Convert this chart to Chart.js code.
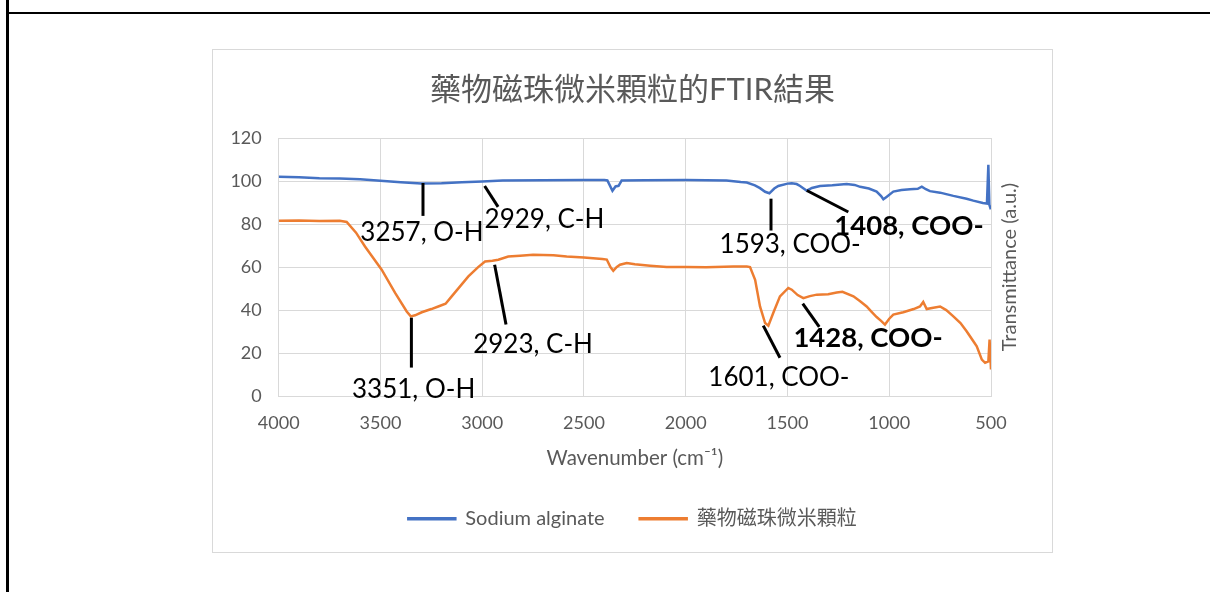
<!DOCTYPE html>
<html>
<head>
<meta charset="utf-8">
<script src="https://cdn.jsdelivr.net/npm/chart.js@4.4.0/dist/chart.umd.min.js"></script>
<style>
  body { margin: 0; background: #fff; width: 1210px; height: 592px; position: relative; overflow: hidden; }
  .vline { position: absolute; left: 6px; top: 0; width: 3px; height: 592px; background: #000; }
  .hline { position: absolute; left: 6px; top: 12px; width: 1204px; height: 2px; background: #000; }
  .frame { position: absolute; left: 212px; top: 49px; width: 841px; height: 504px; border: 1px solid #d9d9d9; box-sizing: border-box; }
  .frame div { position: relative; width: 839px; height: 502px; }
</style>
</head>
<body>
<div class="vline"></div>
<div class="hline"></div>
<div class="frame"><div><canvas id="ftirChart"></canvas></div></div>
<script>
// Sodium alginate spectrum (wavenumber cm-1, transmittance)
const sodiumWn = [4000, 3900, 3800, 3700, 3600, 3500, 3400, 3300, 3200, 3100, 3000, 2900, 2700, 2500, 2400, 2385, 2360, 2345, 2330, 2315, 2200, 2000, 1800, 1730, 1700, 1660, 1635, 1610, 1589, 1565, 1545, 1500, 1479, 1455, 1438, 1405, 1380, 1340, 1280, 1209, 1170, 1143, 1100, 1062, 1040, 1029, 1015, 980, 940, 898, 860, 840, 820, 800, 750, 685, 620, 587, 540, 520, 513, 508, 501];
const sodiumT = [102.0, 101.8, 101.3, 101.2, 100.8, 100.1, 99.4, 98.9, 99.0, 99.4, 99.8, 100.2, 100.4, 100.5, 100.5, 100.3, 95.5, 97.5, 97.8, 100.2, 100.4, 100.5, 100.3, 99.5, 99.3, 98.0, 96.7, 95.0, 94.3, 96.5, 97.7, 98.8, 99.0, 98.6, 97.7, 95.5, 96.8, 97.7, 98.0, 98.6, 98.2, 97.3, 96.5, 95.1, 93.0, 91.5, 92.5, 95.1, 95.8, 96.2, 96.4, 97.4, 96.2, 95.3, 94.6, 93.1, 91.8, 90.9, 89.8, 89.5, 107.5, 89.0, 86.8];

// drug magnetic bead microparticles
const beadWn = [4000, 3900, 3800, 3700, 3666, 3620, 3576, 3494, 3428, 3371, 3351, 3330, 3297, 3250, 3216, 3180, 3150, 3068, 3020, 2986, 2950, 2921, 2872, 2814, 2750, 2650, 2585, 2500, 2410, 2388, 2370, 2356, 2340, 2323, 2290, 2250, 2175, 2094, 2000, 1900, 1766, 1700, 1684, 1659, 1635, 1610, 1594, 1570, 1537, 1496, 1479, 1450, 1422, 1390, 1356, 1300, 1258, 1230, 1176, 1143, 1111, 1090, 1062, 1040, 1021, 1000, 980, 931, 880, 849, 833, 816, 790, 750, 720, 685, 650, 619, 590, 570, 545, 529, 513, 507, 500];
const beadT = [81.5, 81.6, 81.4, 81.5, 81.0, 76.0, 69.6, 58.8, 48.0, 39.4, 37.1, 37.6, 39.0, 40.5, 41.7, 43.0, 46.4, 55.7, 60.0, 62.6, 63.0, 63.4, 64.9, 65.3, 65.7, 65.5, 64.9, 64.5, 63.8, 63.5, 60.0, 58.3, 60.0, 61.1, 61.9, 61.3, 60.6, 60.0, 60.0, 59.9, 60.3, 60.3, 60.0, 54.1, 41.7, 34.0, 32.8, 38.7, 46.4, 50.3, 49.5, 47.0, 45.6, 46.5, 47.2, 47.4, 48.2, 48.5, 46.4, 44.1, 41.7, 39.5, 36.8, 35.0, 33.3, 36.0, 37.9, 39.0, 40.5, 41.7, 43.8, 40.5, 41.0, 41.7, 40.0, 37.1, 34.0, 30.1, 26.0, 23.2, 17.0, 15.5, 16.2, 26.3, 12.4];

const seriesNames = ['Sodium alginate', '藥物磁珠微米顆粒'];

// peak labels: text, line from/to (data units), text centre (data units)
const peakText = ['3257, O-H', '2929, C-H', '1593, COO-', '1408, COO-', '3351, O-H', '2923, C-H', '1601, COO-', '1428, COO-'];
const peakBold = [false, false, false, true, false, false, false, true];
const peakLineX1 = [3291, 2988, 1581, 1405, 3348, 2939, 1619, 1425];
const peakLineY1 = [99.1, 97.7, 91.8, 95.6, 36.5, 61.1, 32.8, 43.0];
const peakLineX2 = [3291, 2922, 1581, 1201, 3348, 2883, 1537, 1344];
const peakLineY2 = [83.8, 88.0, 77.0, 85.6, 13.3, 33.3, 17.9, 32.2];
const peakTextX = [3296, 2694, 1487, 903, 3337, 2750, 1542, 1104];
const peakTextY = [75.9, 81.9, 70.3, 79.0, 3.1, 24.0, 8.6, 27.2];

const FONT = "Lato, 'Noto Sans CJK TC', sans-serif";
const GREY = '#595959';
Chart.defaults.font.family = FONT;

const peakLabels = {
    id: 'peakLabels',
    afterDatasetsDraw(chart) {
        const ctx = chart.ctx;
        const x = chart.scales.x;
        const y = chart.scales.y;
        ctx.save();
        ctx.strokeStyle = '#000';
        ctx.lineWidth = 3;
        ctx.fillStyle = '#000';
        ctx.textAlign = 'center';
        ctx.textBaseline = 'middle';
        peakText.forEach((t, i) => {
            ctx.beginPath();
            ctx.moveTo(x.getPixelForValue(peakLineX1[i]), y.getPixelForValue(peakLineY1[i]));
            ctx.lineTo(x.getPixelForValue(peakLineX2[i]), y.getPixelForValue(peakLineY2[i]));
            ctx.stroke();
            ctx.font = (peakBold[i] ? 'bold 27.5px ' : '26px ') + FONT;
            ctx.fillText(t, x.getPixelForValue(peakTextX[i]), y.getPixelForValue(peakTextY[i]));
        });
        ctx.restore();
    }
};

// y title sits on the right but reads bottom-up
const rightTitle = {
    id: 'rightTitle',
    afterDraw(chart) {
        const a = chart.chartArea;
        const ctx = chart.ctx;
        ctx.save();
        ctx.translate(a.right + 19, (a.top + a.bottom) / 2);
        ctx.rotate(-Math.PI / 2);
        ctx.font = '20px ' + FONT;
        ctx.fillStyle = GREY;
        ctx.textAlign = 'center';
        ctx.textBaseline = 'middle';
        ctx.fillText('Transmittance (a.u.)', 0, 0);
        ctx.restore();
    }
};

new Chart(document.getElementById('ftirChart'), {
    type: 'line',
    data: {
        datasets: [{
            label: seriesNames[0],
            data: sodiumWn.map((w, i) => ({x: w, y: sodiumT[i]})),
            borderColor: '#4472C4',
            backgroundColor: '#4472C4',
            borderWidth: 2.5,
            pointRadius: 0,
            tension: 0
        }, {
            label: seriesNames[1],
            data: beadWn.map((w, i) => ({x: w, y: beadT[i]})),
            borderColor: '#ED7D31',
            backgroundColor: '#ED7D31',
            borderWidth: 2.5,
            pointRadius: 0,
            tension: 0
        }]
    },
    options: {
        responsive: true,
        maintainAspectRatio: false,
        animation: false,
        layout: {padding: {left: 0, right: 0, top: 0, bottom: 13.25}},
        scales: {
            x: {
                type: 'linear',
                reverse: true,
                min: 500,
                max: 4000,
                ticks: {stepSize: 500, color: GREY, font: {size: 18}, padding: 16, maxRotation: 0, callback: v => String(v)},
                grid: {color: '#d9d9d9', drawTicks: false},
                border: {color: '#d9d9d9'},
                title: {display: true, text: 'Wavenumber (cm⁻¹)', color: GREY, font: {size: 20.5}, padding: {top: 0, bottom: 3}},
                afterFit: s => { s.height = 77.55; }
            },
            y: {
                min: 0,
                max: 120,
                ticks: {stepSize: 20, color: GREY, font: {size: 18}, padding: 17},
                grid: {color: '#d9d9d9', drawTicks: false},
                border: {color: '#d9d9d9'},
                afterFit: s => { s.width = 65.7; }
            },
            // empty right axis, only keeps room for the right-hand title
            yR: {
                position: 'right',
                min: 0,
                max: 120,
                ticks: {display: false},
                grid: {display: false, drawTicks: false},
                border: {display: false},
                afterFit: s => { s.width = 61; }
            }
        },
        plugins: {
            title: {
                display: true,
                text: '藥物磁珠微米顆粒的FTIR結果',
                color: GREY,
                font: {size: 31, weight: 'normal'},
                padding: {top: 20.9, bottom: 29.9}
            },
            legend: {
                position: 'bottom',
                labels: {boxWidth: 47, boxHeight: 1, padding: 35, color: GREY, font: {size: 20}}
            },
            tooltip: {enabled: false}
        }
    },
    plugins: [peakLabels, rightTitle]
});
</script>
</body>
</html>
